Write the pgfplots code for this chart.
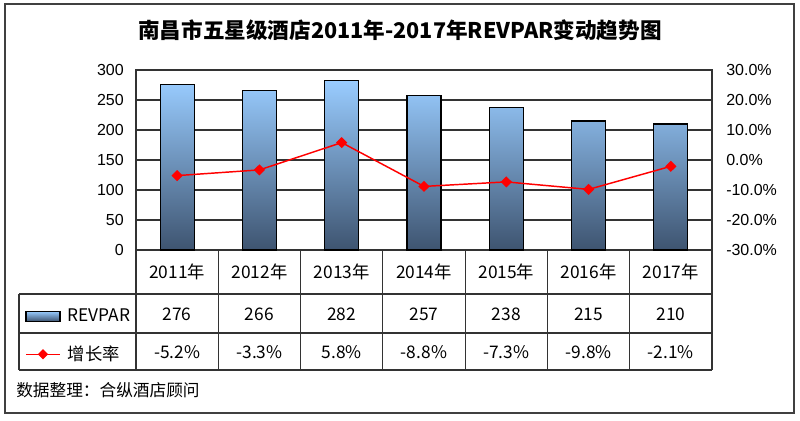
\documentclass[border=0pt]{standalone}
\usepackage{pgfplots}
\pgfplotsset{compat=1.18}
\usepackage{fontspec}
\setmainfont{Liberation Sans}
\newfontfamily\cjk{Noto Sans CJK SC}
\definecolor{barTop}{HTML}{99CCFF}
\definecolor{barBot}{HTML}{3E5470}
\definecolor{gridc}{HTML}{333333}
\begin{document}
\begin{tikzpicture}
\useasboundingbox (0,0) rectangle (600pt,315.75pt);
\begin{axis}[at={(102pt,128.25pt)}, anchor=south west, scale only axis,
  width=432pt, height=135pt,
  xmin=-0.5, xmax=6.5, ymin=0, ymax=300, ytick={0,50,...,300}, xtick=\empty,
  ymajorgrids, grid style={gridc, line width=0.9pt},
  axis line style={gridc, line width=0.9pt},
  major tick length=0pt,
  yticklabel style={font=\fontsize{12}{14}\selectfont, inner sep=0pt, xshift=-9pt},
  /pgf/number format/assume math mode=true,
  clip=false]
\addplot[ybar, bar width=25.5pt, draw=black, line width=0.9pt, top color=barTop, bottom color=barBot]
  coordinates {(0,276) (1,266) (2,282) (3,257) (4,238) (5,215) (6,210)};
\end{axis}
\begin{axis}[at={(102pt,128.25pt)}, anchor=south west, scale only axis,
  width=432pt, height=135pt,
  xmin=-0.5, xmax=6.5, ymin=-30, ymax=30,
  axis y line*=right, axis x line=none,
  ytick={-30,-20,...,30},
  yticklabel={\pgfmathprintnumber[fixed,fixed zerofill,precision=1]{\tick}\%},
  yticklabel style={font=\fontsize{12}{14}\selectfont, inner sep=0pt, xshift=10.5pt},
  major tick length=0pt,
  axis line style={gridc, line width=0.9pt},
  /pgf/number format/assume math mode=true,
  clip=false,
  legend cell align=left,
  legend style={at={(-0.1927,-0.2611)}, anchor=north west, draw=none, fill=none,
    inner sep=0pt, row sep=0pt, font=\cjk\fontsize{13}{15}\selectfont,
    nodes={minimum height=28.5pt, inner sep=0pt},
    /tikz/every odd column/.append style={column sep=5.25pt}}]
\addlegendimage{legend image code/.code={\draw[draw=black, line width=0.9pt, top color=barTop, bottom color=barBot] (0pt,-3.75pt) rectangle (25.5pt,3.75pt);}}
\addlegendentry{REVPAR}
\addplot[red, line width=1.1pt, mark=diamond*, mark size=3.4pt, mark options={fill=red, xscale=1.35},
  legend image code/.code={\draw[red, line width=1.1pt, mark=diamond*, mark size=3pt, mark options={fill=red, xscale=1.35}, mark repeat=2, mark phase=2] plot coordinates {(0pt,0pt) (12.75pt,0pt) (25.5pt,0pt)};}]
  coordinates {(0,-5.2) (1,-3.3) (2,5.8) (3,-8.8) (4,-7.3) (5,-9.8) (6,-2.1)};
\addlegendentry{增长率}
\end{axis}
\begin{scope}[x=0.75pt, y=-0.75pt, shift={(0pt,315.75pt)}]
\draw[gridc, line width=0.9pt] (19,294) -- (712,294) (19,333) -- (712,333) (19,370) -- (712,370) (19,294) -- (19,370);
\foreach \k in {0,...,7} \draw[gridc, line width=0.9pt] ({136+82.2857*\k},250) -- ({136+82.2857*\k},370);
\foreach \yr [count=\i from 0] in {2011,2012,2013,2014,2015,2016,2017}
  \node[font=\cjk\fontsize{13}{15}\selectfont] at ({177.14+82.2857*\i},272) {\yr 年};
\foreach \v [count=\i from 0] in {276,266,282,257,238,215,210}
  \node[font=\cjk\fontsize{13}{15}\selectfont] at ({177.14+82.2857*\i},314) {\v};
\foreach \v [count=\i from 0] in {-5.2,-3.3,5.8,-8.8,-7.3,-9.8,-2.1}
  \node[font=\cjk\fontsize{13}{15}\selectfont] at ({177.14+82.2857*\i},352) {\v\%};
\node[anchor=west, inner sep=0pt, font=\cjk\fontsize{12.5}{15}\selectfont] at (16,390) {数据整理：合纵酒店顾问};
\node[font=\cjk\bfseries\fontsize{16.2}{19}\selectfont] at (400,30) {南昌市五星级酒店2011年-2017年REVPAR变动趋势图};
\draw[black!75, line width=1.2pt] (5,4) rectangle (794,413);
\end{scope}
\end{tikzpicture}
\end{document}
